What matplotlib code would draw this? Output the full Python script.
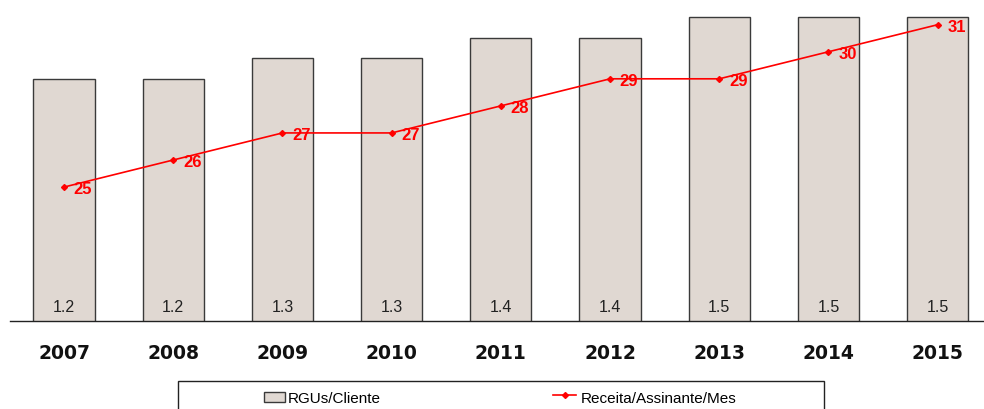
import matplotlib
matplotlib.use("Agg")
import matplotlib.pyplot as plt
from matplotlib.patches import Rectangle
from matplotlib.lines import Line2D

years = ["2007", "2008", "2009", "2010", "2011", "2012", "2013", "2014", "2015"]
rgus = [1.2, 1.2, 1.3, 1.3, 1.4, 1.4, 1.5, 1.5, 1.5]
receita = [25, 26, 27, 27, 28, 29, 29, 30, 31]

plt.rcParams['font.family'] = ['Liberation Sans', 'DejaVu Sans']

W, H = 984, 410
fig = plt.figure(figsize=(W / 100, H / 100), dpi=100)
ax = fig.add_axes([10 / W, 1 - 322 / H, 973 / W, 312 / H])

x = list(range(len(years)))
ax.bar(x, rgus, width=0.56, color="#e0d8d2", edgecolor="#3a3a3a", linewidth=1.0, zorder=2)
for xi, v in zip(x, rgus):
    ax.text(xi, 0.1, f"{v:.1f}", ha="center", va="center", fontsize=11.5, color="#222222", zorder=3)

ax.set_xlim(-0.495, 8.415)
ax.set_ylim(0.031, 1.538)
for s in ["top", "left", "right"]:
    ax.spines[s].set_visible(False)
ax.spines["bottom"].set_linewidth(1.0)
ax.spines["bottom"].set_color("#222222")
ax.set_yticks([])
ax.set_xticks(x)
ax.set_xticklabels(years, fontsize=13.5, fontweight="bold", family="DejaVu Sans", color="#111111")
ax.tick_params(axis="x", length=0, pad=16)

ax2 = ax.twinx()
ax2.set_ylim(20.05, 31.58)
ax2.axis("off")
ax2.plot(x, receita, color="#ff0000", linewidth=1.2, marker="D", markersize=3, zorder=4, clip_on=False)
for xi, v in zip(x, receita):
    ax2.annotate(str(v), (xi, v), xytext=(7, -1), textcoords="offset points",
                 ha="left", va="center", fontsize=12, fontweight="bold", color="#ff0000")

# legend box
fig.patches.append(Rectangle((178 / W, -0.1), (824 - 178) / W, 0.1 + 1 - 382 / H,
                             transform=fig.transFigure, facecolor="white",
                             edgecolor="#222222", linewidth=1.0))
fig.patches.append(Rectangle((264 / W, 1 - 403 / H), 21 / W, 10 / H,
                             transform=fig.transFigure, facecolor="#e0d8d2",
                             edgecolor="#3a3a3a", linewidth=1.0))
fig.text(288 / W, 1 - 399 / H, "RGUs/Cliente", fontsize=11, ha="left", va="center")
fig.lines.append(Line2D([553 / W, 576 / W], [1 - 396 / H, 1 - 396 / H], transform=fig.transFigure,
                        color="#ff0000", linewidth=1.2))
fig.lines.append(Line2D([564.5 / W], [1 - 396 / H], transform=fig.transFigure,
                        color="#ff0000", marker="D", markersize=3))
fig.text(581 / W, 1 - 399 / H, "Receita/Assinante/Mes", fontsize=11, ha="left", va="center")

fig.savefig("out.png", dpi=100)
